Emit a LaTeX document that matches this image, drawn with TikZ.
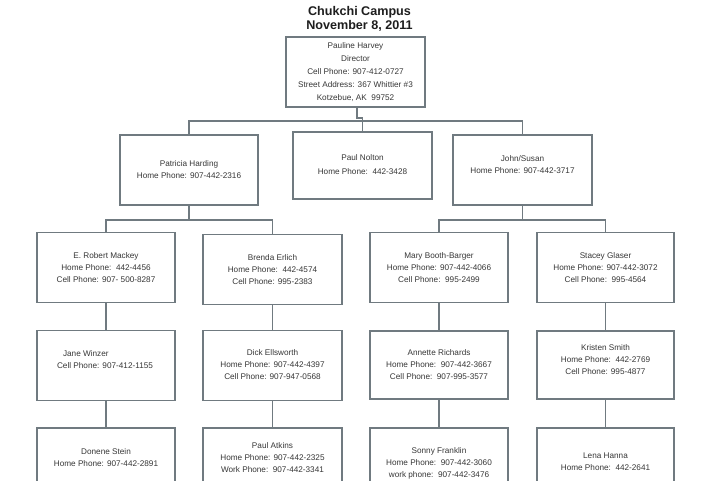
\documentclass[tikz,border=0pt]{standalone}
\usepackage{fontspec}
\setmainfont{Liberation Sans}
\definecolor{boxc}{RGB}{112,122,128}
\definecolor{txtc}{RGB}{55,55,55}
\tikzset{
  orgbox/.style={draw=boxc, line width=1.4pt, fill=white, inner sep=0pt, minimum width=138pt, minimum height=70pt},
  orgtxt/.style={font=\fontsize{8.2}{12}\selectfont, text=txtc, align=center, inner sep=0pt},
  link/.style={draw=boxc, line width=1.3pt},
}
\begin{document}
\begin{tikzpicture}[x=1pt,y=-1pt]
\useasboundingbox (0,0) rectangle (720,480);
\clip (0,0) rectangle (720,480);
\fill[white] (0,0) rectangle (720,480);

\node[font=\bfseries\fontsize{12.6}{14}\selectfont, text={rgb,255:red,30;green,30;blue,30}, align=center, inner sep=0pt] (title) at (359.5,18.5) {Chukchi Campus\\November 8, 2011};

% level 1
\node[orgbox, minimum width=139pt] (dir) at (355.5,72) {};
\node[orgtxt, font=\fontsize{8.2}{13}\selectfont] (tdir) at (355.5,72.5) {Pauline Harvey\\Director\\Cell Phone: 907-412-0727\\Street Address: 367 Whittier \#3\\Kotzebue, AK\ \ 99752};

% level 2
\node[orgbox] (pat) at (189,170) {};
\node[orgtxt] (tpat) at (189,170) {Patricia Harding\\Home Phone: 907-442-2316};
\node[orgbox, minimum width=139pt, minimum height=67pt] (pn) at (362.5,165.5) {};
\node[orgtxt, font=\fontsize{8.2}{14}\selectfont] (tpn) at (362.5,165) {Paul Nolton\\Home Phone:\ \ 442-3428};
\node[orgbox, minimum width=139pt] (js) at (522.5,170) {};
\node[orgtxt, font=\fontsize{8.2}{11.5}\selectfont] (tjs) at (522.5,164.5) {John/Susan\\Home Phone: 907-442-3717};

% level 3
\node[orgbox] (mac) at (106,267.5) {};
\node[orgtxt] (tmac) at (106,268) {E. Robert Mackey\\Home Phone:\ \ 442-4456\\Cell Phone: 907- 500-8287};
\node[orgbox, minimum width=139pt] (bre) at (272.5,269.5) {};
\node[orgtxt] (tbre) at (272.5,269.5) {Brenda Erlich\\Home Phone:\ \ 442-4574\\Cell Phone: 995-2383};
\node[orgbox] (mary) at (439,267.5) {};
\node[orgtxt] (tmary) at (439,268) {Mary Booth-Barger\\Home Phone: 907-442-4066\\Cell Phone:\ \ 995-2499};
\node[orgbox, minimum width=137pt] (sta) at (605.5,267.5) {};
\node[orgtxt] (tsta) at (605.5,268) {Stacey Glaser\\Home Phone: 907-442-3072\\Cell Phone:\ \ 995-4564};

% level 4
\node[orgbox] (jane) at (106,365.5) {};
\node[orgtxt, align=left] (tjane) at (105,360) {\hspace*{6pt}Jane Winzer\\Cell Phone: 907-412-1155};
\node[orgbox, minimum width=139pt] (dick) at (272.5,365.5) {};
\node[orgtxt] (tdick) at (272.5,365) {Dick Ellsworth\\Home Phone: 907-442-4397\\Cell Phone: 907-947-0568};
\node[orgbox, minimum height=68pt] (ann) at (439,365) {};
\node[orgtxt] (tann) at (439,365) {Annette Richards\\Home Phone:\ \ 907-442-3667\\Cell Phone:\ \ 907-995-3577};
\node[orgbox, minimum width=137pt, minimum height=68pt] (kri) at (605.5,365) {};
\node[orgtxt] (tkri) at (605.5,360) {Kristen Smith\\Home Phone:\ \ 442-2769\\Cell Phone: 995-4877};

% level 5
\node[orgbox] (don) at (106,463) {};
\node[orgtxt] (tdon) at (106,458) {Donene Stein\\Home Phone: 907-442-2891};
\node[orgbox, minimum width=139pt] (pa) at (272.5,463) {};
\node[orgtxt] (tpa) at (272.5,458) {Paul Atkins\\Home Phone: 907-442-2325\\Work Phone:\ \ 907-442-3341};
\node[orgbox] (son) at (439,463) {};
\node[orgtxt] (tson) at (439,463) {Sonny Franklin\\Home Phone:\ \ 907-442-3060\\work phone:\ \ 907-442-3476};
\node[orgbox, minimum width=137pt] (lena) at (605.5,463) {};
\node[orgtxt] (tlena) at (605.5,462) {Lena Hanna\\Home Phone:\ \ 442-2641};

% connectors level 1-2
\coordinate (j1) at (357,118);
\coordinate (b2) at (0,121);
\draw[link] (j1 |- dir.south) -- (j1) -- (j1 -| pn.north) -- (pn.north);
\draw[link] (pat.north) -- (pat.north |- b2) -- (js.north |- b2) -- (js.north);

% level 2-3
\coordinate (b3) at (0,220);
\draw[link] (pat.south) -- (pat.south |- b3);
\draw[link] (mac.north) -- (mac.north |- b3) -- (bre.north |- b3) -- (bre.north);
\draw[link] (js.south) -- (js.south |- b3);
\draw[link] (mary.north) -- (mary.north |- b3) -- (sta.north |- b3) -- (sta.north);

% verticals
\draw[link] (mac.south) -- (jane.north);
\draw[link] (bre.south) -- (dick.north);
\draw[link] (mary.south) -- (ann.north);
\draw[link] (sta.south) -- (kri.north);
\draw[link] (jane.south) -- (don.north);
\draw[link] (dick.south) -- (pa.north);
\draw[link] (ann.south) -- (son.north);
\draw[link] (kri.south) -- (lena.north);
\end{tikzpicture}
\end{document}
